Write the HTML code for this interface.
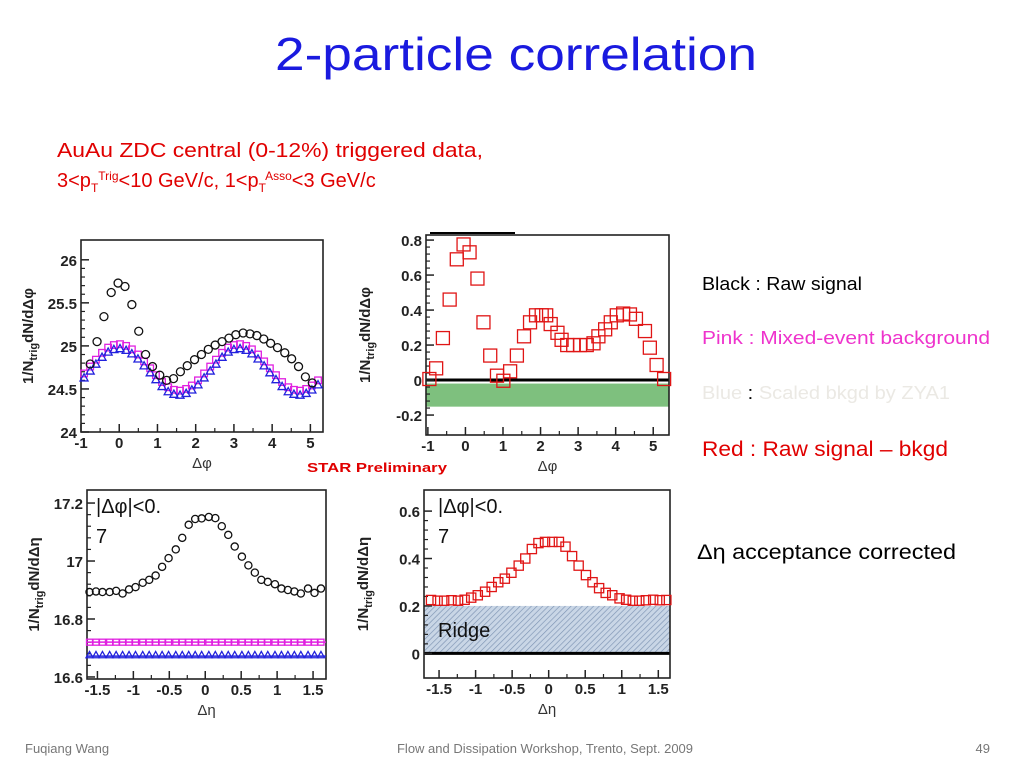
<!DOCTYPE html>
<html><head><meta charset="utf-8"><style>
body{margin:0;background:#fff;}
svg{display:block;font-family:"Liberation Sans",Arial,sans-serif;}
</style></head><body>
<svg id="s" width="1024" height="768" viewBox="0 0 1024 768">
<text x="275" y="70" font-size="46" fill="#1a1adf" textLength="482" lengthAdjust="spacingAndGlyphs">2-particle correlation</text>
<text x="57" y="157" font-size="20" fill="#e00000" textLength="426" lengthAdjust="spacingAndGlyphs">AuAu ZDC central (0-12%) triggered data,</text>
<text x="57" y="187" font-size="20" fill="#e00000">3&lt;p<tspan font-size="12" dy="5">T</tspan><tspan font-size="12" dy="-12">Trig</tspan><tspan dy="7">&lt;10 GeV/c, 1&lt;p</tspan><tspan font-size="12" dy="5">T</tspan><tspan font-size="12" dy="-12">Asso</tspan><tspan dy="7">&lt;3  GeV/c</tspan></text>
<text x="702" y="290" font-size="18" fill="#000" textLength="160" lengthAdjust="spacingAndGlyphs">Black : Raw signal</text>
<text x="702" y="344" font-size="18" fill="#ee33cc" textLength="288" lengthAdjust="spacingAndGlyphs">Pink  : Mixed-event background</text>
<text x="702" y="399" font-size="18" fill="#ebe9e4" textLength="248" lengthAdjust="spacingAndGlyphs">Blue  <tspan fill="#000">:</tspan> Scaled bkgd by ZYA1</text>
<text x="702" y="456" font-size="21" fill="#e00000" textLength="246" lengthAdjust="spacingAndGlyphs">Red  : Raw signal – bkgd</text>
<text x="697" y="559" font-size="21" fill="#000" textLength="259" lengthAdjust="spacingAndGlyphs">Δη acceptance corrected</text>
<text x="307" y="472" font-size="13" font-weight="bold" fill="#e00000" textLength="140" lengthAdjust="spacingAndGlyphs">STAR Preliminary</text>
<text x="25" y="753" font-size="13" fill="#777">Fuqiang Wang</text>
<text x="545" y="753" font-size="13" fill="#777" text-anchor="middle">Flow and Dissipation Workshop, Trento, Sept. 2009</text>
<text x="990" y="753" font-size="13" fill="#777" text-anchor="end">49</text>
<defs><pattern id="hatch" width="4" height="4" patternUnits="userSpaceOnUse" patternTransform="rotate(45)"><rect width="4" height="4" fill="#c9d6e6"/><line x1="0" y1="0" x2="0" y2="4" stroke="#7d93b3" stroke-width="1.3"/></pattern></defs>
<line x1="430" y1="233" x2="515" y2="233" stroke="#000" stroke-width="2"/>
</svg>
<script>
// ---- data ----
const phiBkg = [-0.92,-0.76,-0.61,-0.45,-0.29,-0.14,0.02,0.18,0.33,0.49,0.65,0.81,0.96,1.12,1.28,1.43,1.59,1.75,1.90,2.06,2.22,2.38,2.53,2.69,2.85,3.00,3.16,3.32,3.47,3.63,3.79,3.94,4.10,4.26,4.42,4.57,4.73,4.89,5.04,5.20];
const pinkPhi = [24.68,24.76,24.84,24.92,24.98,25.01,25.02,25.00,24.96,24.90,24.82,24.74,24.66,24.58,24.52,24.49,24.48,24.50,24.54,24.60,24.68,24.76,24.84,24.92,24.98,25.01,25.02,25.00,24.96,24.90,24.82,24.74,24.66,24.58,24.52,24.49,24.48,24.50,24.54,24.60];
const bluePhi = [24.63,24.71,24.79,24.87,24.93,24.96,24.97,24.95,24.91,24.85,24.77,24.69,24.61,24.53,24.47,24.44,24.43,24.45,24.49,24.55,24.63,24.71,24.79,24.87,24.93,24.96,24.97,24.95,24.91,24.85,24.77,24.69,24.61,24.53,24.47,24.44,24.43,24.45,24.49,24.55];
const phiBlack = [-0.76,-0.58,-0.40,-0.21,-0.03,0.15,0.33,0.51,0.69,0.87,1.06,1.24,1.42,1.60,1.78,1.97,2.15,2.33,2.51,2.69,2.87,3.05,3.24,3.42,3.60,3.78,3.96,4.14,4.33,4.51,4.69,4.87,5.05];
const blackPhi = [24.79,25.05,25.34,25.62,25.73,25.69,25.48,25.17,24.90,24.76,24.66,24.60,24.62,24.70,24.77,24.84,24.90,24.96,25.01,25.05,25.09,25.13,25.15,25.14,25.12,25.08,25.03,24.98,24.92,24.85,24.76,24.64,24.57];
const phiRed = [-0.96,-0.78,-0.60,-0.42,-0.23,-0.05,0.11,0.32,0.48,0.66,0.84,1.01,1.19,1.37,1.56,1.72,1.88,2.03,2.15,2.27,2.45,2.56,2.71,2.87,3.05,3.23,3.41,3.54,3.72,3.87,4.03,4.20,4.38,4.54,4.78,4.91,5.09,5.29];
const redPhi = [0.006,0.067,0.24,0.46,0.69,0.775,0.73,0.58,0.33,0.14,0.025,-0.004,0.05,0.14,0.25,0.33,0.37,0.37,0.37,0.32,0.27,0.23,0.20,0.20,0.20,0.20,0.21,0.25,0.29,0.33,0.37,0.38,0.375,0.35,0.28,0.185,0.086,0.006];
const eta = [-1.61,-1.52,-1.43,-1.33,-1.24,-1.15,-1.06,-0.97,-0.87,-0.78,-0.69,-0.60,-0.51,-0.41,-0.32,-0.23,-0.14,-0.05,0.05,0.14,0.23,0.32,0.41,0.51,0.60,0.69,0.78,0.87,0.97,1.06,1.15,1.24,1.33,1.43,1.52,1.61];
const blackEta = [16.893,16.895,16.893,16.893,16.897,16.888,16.902,16.91,16.925,16.935,16.95,16.98,17.01,17.04,17.08,17.125,17.145,17.147,17.152,17.148,17.12,17.09,17.05,17.015,16.985,16.96,16.935,16.928,16.92,16.905,16.9,16.895,16.888,16.905,16.89,16.905];
const pinkEta = [16.72,16.72,16.72,16.72,16.72,16.72,16.72,16.72,16.72,16.72,16.72,16.72,16.72,16.72,16.72,16.72,16.72,16.72,16.72,16.72,16.72,16.72,16.72,16.72,16.72,16.72,16.72,16.72,16.72,16.72,16.72,16.72,16.72,16.72,16.72,16.72];
const blueEta = [16.676,16.676,16.676,16.676,16.676,16.676,16.676,16.676,16.676,16.676,16.676,16.676,16.676,16.676,16.676,16.676,16.676,16.676,16.676,16.676,16.676,16.676,16.676,16.676,16.676,16.676,16.676,16.676,16.676,16.676,16.676,16.676,16.676,16.676,16.676,16.676];
const redEta = [0.225,0.222,0.222,0.224,0.222,0.226,0.235,0.245,0.26,0.28,0.30,0.315,0.34,0.37,0.40,0.44,0.465,0.47,0.47,0.47,0.45,0.41,0.37,0.33,0.30,0.275,0.255,0.245,0.232,0.226,0.222,0.222,0.224,0.226,0.224,0.225];
const ticksPhiX = [-1,0,1,2,3,4,5];
const ticksEtaX = [-1.5,-1,-0.5,0,0.5,1,1.5];
const ticksTL = [24,24.5,25,25.5,26];
const ticksTR = [-0.2,0,0.2,0.4,0.6,0.8];
const ticksBL = [16.6,16.8,17,17.2];
const ticksBR = [0,0.2,0.4,0.6];

const NS='http://www.w3.org/2000/svg';
const svg=document.getElementById('s');
function mk(tag,attrs,parent){const e=document.createElementNS(NS,tag);for(const k in attrs)e.setAttribute(k,attrs[k]);(parent||svg).appendChild(e);return e;}

function makePlot(name,L,R,T,B,x0,x1,y0,y1){
  const g=mk('g',{});
  
  
  const sx=v=>L+(v-x0)/(x1-x0)*(R-L);
  const sy=v=>B-(v-y0)/(y1-y0)*(B-T);
  return {g,sx,sy,L,R,T,B};
}
function frame(p,xt,yt,xlab,ylab,fmtY){
  const f=mk('rect',{x:p.L,y:p.T,width:p.R-p.L,height:p.B-p.T,fill:'none',stroke:'#222','stroke-width':1.6},p.g);
  
  
  xt.forEach((v,i)=>{
    const x=p.sx(v);
    mk('line',{x1:x,y1:p.B,x2:x,y2:p.B-8,stroke:'#222','stroke-width':1.5},p.g);
    if(i<xt.length-1){const xm=p.sx((v+xt[i+1])/2);mk('line',{x1:xm,y1:p.B,x2:xm,y2:p.B-4,stroke:'#222','stroke-width':1.2},p.g);}
    const t=mk('text',{x:x,y:p.B+16,'font-size':15,'font-weight':'bold','text-anchor':'middle',fill:'#222'},p.g);
    t.textContent=String(v);
    
    
  });
  yt.forEach((v,i)=>{
    const y=p.sy(v);
    mk('line',{x1:p.L,y1:y,x2:p.L+8,y2:y,stroke:'#222','stroke-width':1.5},p.g);
    if(i<yt.length-1){for(let k=1;k<5;k++){const ym=p.sy(v+(yt[i+1]-v)*k/5);mk('line',{x1:p.L,y1:ym,x2:p.L+4,y2:ym,stroke:'#222','stroke-width':1.2},p.g);}}
    const t=mk('text',{x:p.L-4,y:y+6,'font-size':15,'font-weight':'bold','text-anchor':'end',fill:'#222'},p.g);
    t.textContent=fmtY(v);
    
    
  });
  const xl=mk('text',{x:(p.L+p.R)/2,y:p.B+36,'font-size':15,'text-anchor':'middle',fill:'#333'},p.g);
  xl.textContent=xlab;
  
  
  const cy=(p.T+p.B)/2, cx=p.L-(fmtY===f1?48:56);
  const yl=mk('text',{x:cx,y:cy,'font-size':15,'font-weight':'bold','text-anchor':'middle',fill:'#222',transform:'rotate(-90 '+cx+' '+cy+')'},p.g);
  yl.innerHTML='1/N<tspan font-size="11" dy="4">trig</tspan><tspan dy="-4">dN/d'+ylab+'</tspan>';
  
  
}
function f1(v){return (Math.round(v*10)/10).toString();}
function fr(v){return (Math.round(v*10)/10).toString();}
function circles(p,xs,ys,r,color,name){xs.forEach((x,i)=>{const c=mk('circle',{cx:p.sx(x),cy:p.sy(ys[i]),r:r,fill:'none',stroke:color,'stroke-width':1.3},p.g);
  
  });}
function squares(p,xs,ys,h,color,name,sw){xs.forEach((x,i)=>{const c=mk('rect',{x:p.sx(x)-h,y:p.sy(ys[i])-h,width:2*h,height:2*h,fill:'none',stroke:color,'stroke-width':sw||1.3},p.g);
  
  });}
function tris(p,xs,ys,h,color,name){xs.forEach((x,i)=>{const X=p.sx(x),Y=p.sy(ys[i]);const c=mk('polygon',{points:(X-h)+','+(Y+h*0.8)+' '+(X+h)+','+(Y+h*0.8)+' '+X+','+(Y-h),fill:'none',stroke:color,'stroke-width':1.3},p.g);
  
  });}
function label(p,x,y,txt,size,name){const t=mk('text',{x:x,y:y,'font-size':size,fill:'#111'},p.g);t.textContent=txt;
  
  }

// Top-left
const tl=makePlot('dphi-raw-plot',81,323,240,432,-1,5.33,24,26.23);
frame(tl,ticksPhiX,ticksTL,'Δφ','Δφ',f1);
squares(tl,phiBkg,pinkPhi,3.3,'#e020e0','pink-bkg-point');
tris(tl,phiBkg,bluePhi,4,'#2222dd','blue-bkg-point');
circles(tl,phiBlack,blackPhi,4,'#111','black-raw-point');

// Top-right
const tr=makePlot('dphi-signal-plot',426,669,235,435,-1.05,5.42,-0.314,0.829);
const gb=mk('rect',{x:tr.L,y:tr.sy(-0.02),width:tr.R-tr.L,height:tr.sy(-0.152)-tr.sy(-0.02),fill:'#7ec07e'},tr.g);


mk('line',{x1:tr.L,y1:tr.sy(0),x2:tr.R,y2:tr.sy(0),stroke:'#000','stroke-width':3},tr.g);
frame(tr,ticksPhiX,ticksTR,'Δφ','Δφ',fr);
squares(tr,phiRed,redPhi,6.5,'#e01515','red-signal-point');

// Bottom-left
const bl=makePlot('deta-raw-plot',87,326,490,679,-1.645,1.68,16.593,17.245);
frame(bl,ticksEtaX,ticksBL,'Δη','Δη',f1);
squares(bl,eta,pinkEta,3,'#e020e0','pink-bkg-point');
tris(bl,eta,blueEta,3.5,'#2222dd','blue-bkg-point');
mk('line',{x1:bl.L,y1:bl.sy(16.72),x2:bl.R,y2:bl.sy(16.72),stroke:'#e020e0','stroke-width':1.5},bl.g);
mk('line',{x1:bl.L,y1:bl.sy(16.672),x2:bl.R,y2:bl.sy(16.672),stroke:'#2222dd','stroke-width':1.5},bl.g);
circles(bl,eta,blackEta,3.6,'#111','black-raw-point');
label(bl,96,513,'|Δφ|<0.',20,'dphi-cut-label');
label(bl,96,543,'7',20,'dphi-cut-label-2');

// Bottom-right
const br=makePlot('deta-signal-plot',424,670,490,678,-1.706,1.66,-0.104,0.689);
const hb=mk('rect',{x:br.L,y:br.sy(0.2),width:br.R-br.L,height:br.sy(0)-br.sy(0.2),fill:'url(#hatch)'},br.g);


mk('line',{x1:br.L,y1:br.sy(0),x2:br.R,y2:br.sy(0),stroke:'#000','stroke-width':3},br.g);
frame(br,ticksEtaX,ticksBR,'Δη','Δη',fr);
squares(br,eta,redEta,4.6,'#e01515','red-signal-point');
label(br,438,513,'|Δφ|<0.',20,'dphi-cut-label');
label(br,438,543,'7',20,'dphi-cut-label-2');
label(br,438,637,'Ridge',20,'ridge-label');
</script>
</body></html>
